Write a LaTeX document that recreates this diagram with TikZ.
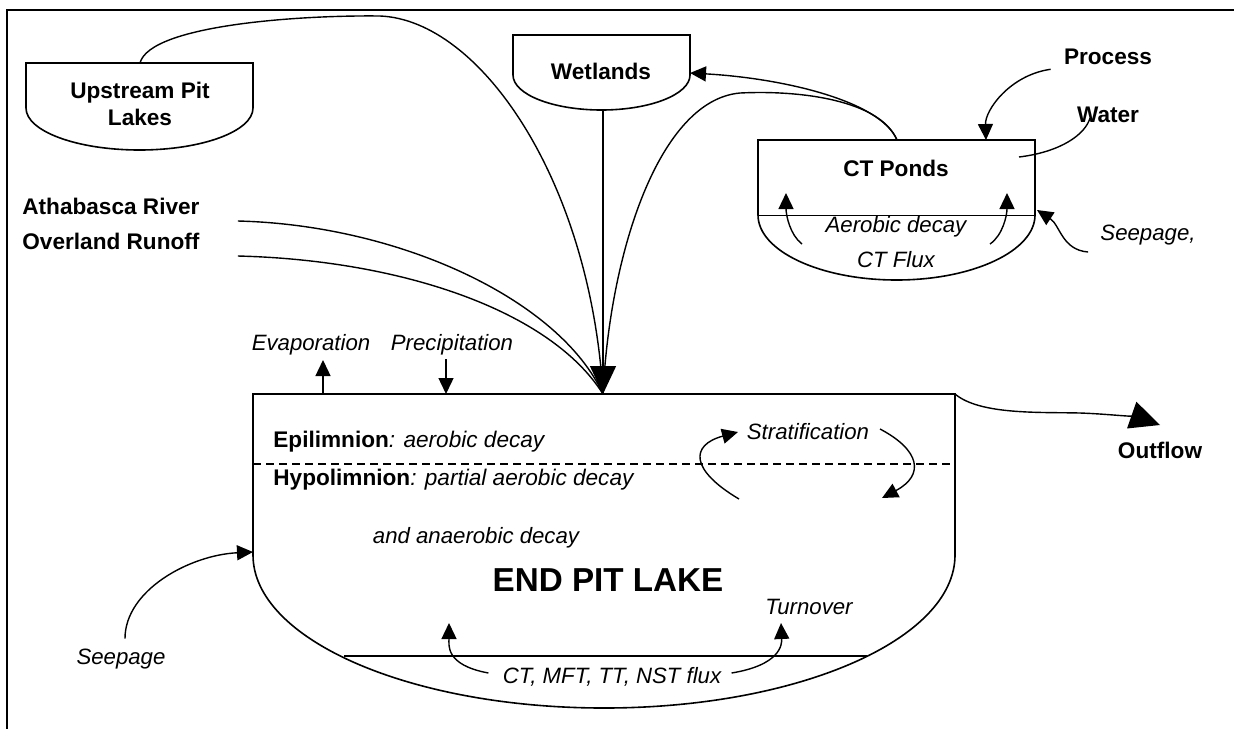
\documentclass[tikz,border=0pt]{standalone}
\usepackage{fontspec}
\setmainfont{Liberation Sans}
\usetikzlibrary{arrows.meta}
\tikzset{%
    boldlbl/.style={font=\fontsize{11.3}{13.5}\selectfont\bfseries, align=center, inner sep=0pt},
    itlbl/.style={font=\fontsize{11.1}{13.5}\selectfont\itshape, align=center, inner sep=0pt},
    flow/.style={line width=0.7pt, -{Triangle[length=8pt,width=7.5pt]}},
    pipe/.style={line width=0.7pt},
    basin/.style={line width=0.8pt}
}
\begin{document}
\begin{tikzpicture}[x=0.5pt,y=-0.5pt]
    \useasboundingbox (0,0) rectangle (1234,729);
    % frame
    \draw[line width=0.9pt] (1234,10) -- (7,10) -- (7,729);
    % basins
    \draw[basin] (26,108) -- (26,63) -- (253,63) -- (253,108)
        arc[start angle=0, end angle=-180, x radius=56.75pt, y radius=21pt];
    \draw[basin] (513,75) -- (513,35) -- (690,35) -- (690,75)
        arc[start angle=0, end angle=-180, x radius=44.25pt, y radius=17.5pt];
    \draw[basin] (758,215) -- (758,140) -- (1035,140) -- (1035,215)
        arc[start angle=0, end angle=-180, x radius=69.25pt, y radius=32.5pt];
    \draw[line width=0.5pt] (758,215) -- (1035,215);
    \draw[basin] (253,555) -- (253,394) -- (955,394) -- (955,555)
        arc[start angle=0, end angle=-180, x radius=175.5pt, y radius=76.5pt];
    \draw[basin] (344,656) -- (867,656);
    \draw[line width=0.7pt, dash pattern=on 4pt off 2.5pt] (253,464) -- (955,464);

    % labels
    \node[boldlbl] (upstream) at (140,104) {Upstream Pit\\Lakes};
    \node[boldlbl] (wetlands) at (601,71) {Wetlands};
    \node[boldlbl] (ctponds) at (896,168) {CT Ponds};
    \node[itlbl] (aerobic) at (896,227) {Aerobic decay};
    \node[itlbl] (ctflux) at (896,260) {CT Flux};
    \node[boldlbl] (process) at (1108,57) {Process};
    \node[boldlbl] (water) at (1108,115) {Water};
    \node[itlbl] (seepct) at (1148,235) {Seepage,};
    \node[boldlbl, anchor=west] (athabasca) at (22,206) {Athabasca River};
    \node[boldlbl, anchor=west] (overland) at (22,241) {Overland Runoff};
    \node[itlbl] (evap) at (311,345) {Evaporation};
    \node[itlbl] (precip) at (452,345) {Precipitation};
    \node[boldlbl, anchor=west] (epi) at (273,442) {Epilimnion\textit{\mdseries: aerobic decay}};
    \node[boldlbl, anchor=west] (hypo) at (273,480) {Hypolimnion\textit{\mdseries: partial aerobic decay}};
    \node[itlbl] (anaer) at (476,538) {and anaerobic decay};
    \node[font=\fontsize{16.6}{19}\selectfont\bfseries, inner sep=0pt] (endpit) at (608,580) {END PIT LAKE};
    \node[itlbl] (strat) at (808,432) {Stratification};
    \node[itlbl] (turnover) at (809,607) {Turnover};
    \node[itlbl] (flux) at (612,677) {CT, MFT, TT, NST flux};
    \node[itlbl] (seepage) at (121,659) {Seepage};
    \node[boldlbl] (outflow) at (1160,450) {Outflow};

    % connector ends
    \coordinate (inlet) at (603,394);
    \coordinate (uptop) at (140,63);
    \coordinate (wetbot) at (603,110);
    \coordinate (wetside) at (690,73);
    \coordinate (cttop) at (897,140);
    \coordinate (ctin) at (986,140);
    \coordinate (ctside) at (1037,210);
    \coordinate (lakeside) at (253,552);
    \coordinate (lakecorner) at (955,394);
    \coordinate (evapfoot) at (323,394);
    \coordinate (precipfoot) at (446,394);

    % inflows to the lake
    \draw[pipe] (uptop) .. controls (150,25) and (300,15) .. (380,16)
        .. controls (480,20) and (590,180) .. (inlet);
    \draw[pipe] (athabasca.east) ++(38,15) .. controls (400,225) and (560,300) .. (inlet);
    \draw[pipe] (overland.east) ++(38,15) .. controls (400,260) and (550,310) .. (inlet);
    \draw[pipe] (cttop) .. controls (880,100) and (800,90) .. (740,93)
        .. controls (660,100) and (610,250) .. (inlet);
    \draw[line width=0.7pt, -{Triangle[length=14pt,width=13pt]}] (wetbot) -- (inlet);
    \draw[flow] (cttop) .. controls (880,100) and (780,78) .. (wetside);

    % CT ponds
    \draw[flow] (process.south west) ++(-13,4) .. controls (1010,75) and (985,110) .. (ctin);
    \draw[pipe] (1019,157) .. controls (1060,152) and (1085,135) .. (1090,118);
    \draw[flow] (seepct.west) ++(-12,17) .. controls (1062,250) and (1060,225) .. (ctside);
    \draw[flow] (802,244) .. controls (790,235) and (786,215) .. (786,193);
    \draw[flow] (990,244) .. controls (1003,235) and (1007,215) .. (1007,193);

    % lake
    \draw[flow] (evapfoot) -- ++(0,-34);
    \draw[flow] (precipfoot) ++(0,-35) -- (precipfoot);
    \draw[flow] (seepage.north) ++(4,-10) .. controls (125,590) and (190,555) .. (lakeside);
    \draw[flow] (739,499) .. controls (690,470) and (690,445) .. (738,432);
    \draw[flow] (880,429) .. controls (920,450) and (925,475) .. (882,498);
    \draw[flow] (flux.east) ++(10,-4) .. controls (780,665) and (782,645) .. (781,623);
    \draw[flow] (flux.west) ++(-14,-4) .. controls (445,665) and (449,645) .. (449,623);
    \draw[line width=0.7pt, -{Triangle[length=15pt,width=14pt]}] (lakecorner)
        .. controls (980,415) and (1040,412) .. (1080,413)
        .. controls (1110,414) and (1140,418) .. (1160,425);
\end{tikzpicture}
\end{document}
